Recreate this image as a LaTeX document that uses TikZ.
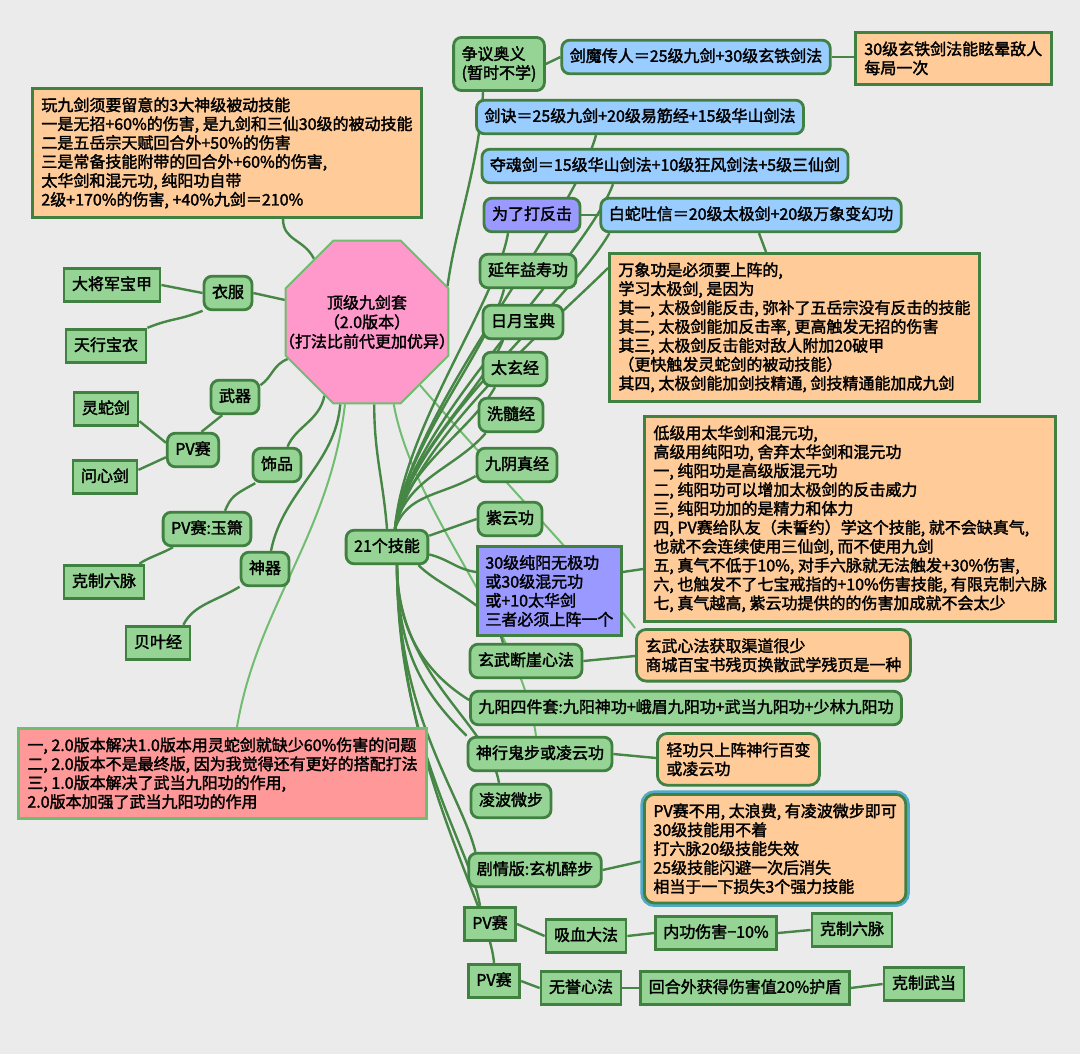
\documentclass[tikz,border=0pt]{standalone}
\usepackage{fontspec}
\setmainfont{Noto Sans CJK SC}[FakeBold=2]
\usetikzlibrary{shapes.geometric,backgrounds}
\definecolor{BgClr}{RGB}{235,235,235}
\definecolor{BoxClr}{RGB}{150,212,150}
\definecolor{LineClr}{RGB}{64,128,64}
\definecolor{LinkClr}{RGB}{70,135,70}
\definecolor{SoftClr}{RGB}{112,188,112}
\definecolor{NoteClr}{RGB}{255,204,153}
\definecolor{BlueClr}{RGB}{153,204,255}
\definecolor{PurpleClr}{RGB}{153,153,255}
\definecolor{HubClr}{RGB}{255,153,204}
\definecolor{RedClr}{RGB}{255,153,153}
\definecolor{SelClr}{RGB}{80,170,200}

\tikzset{
  mmbase/.style={draw=LineClr, fill=BoxClr, line width=1.4pt, inner xsep=4pt, inner ysep=4.4pt,
    font=\fontsize{8}{9.45}\selectfont},
  mmtopic/.style={mmbase, rounded corners=4pt, text height=6.4pt, text depth=1.6pt},
  mmleaf/.style={mmtopic, sharp corners},
  mmnote/.style={mmbase, fill=NoteClr, align=left, anchor=north west, inner xsep=4.5pt, inner ysep=4.5pt},
  mmhub/.style={regular polygon, regular polygon sides=8, minimum size=88pt, inner sep=0pt,
    fill=HubClr, draw=SoftClr, line width=1pt},
  mmlink/.style={draw=LinkClr, line width=1.2pt},
  mmsoft/.style={draw=SoftClr, line width=1pt}
}

\begin{document}
\begin{tikzpicture}[x=0.5pt,y=-0.5pt]
\useasboundingbox (0,0) rectangle (1080,1054);

\node[mmhub] (hub) at (367,322) {};
\node[font=\fontsize{8}{9.7}\selectfont, align=center] (hubtxt) at (hub.center) {顶级九剑套\\（2.0版本）\\（打法比前代更加优异）};

\node[mmnote] (notetl) at (31,87) {玩九剑须要留意的3大神级被动技能\\一是无招+60\%的伤害, 是九剑和三仙30级的被动技能\\二是五岳宗天赋回合外+50\%的伤害\\三是常备技能附带的回合外+60\%的伤害,\\太华剑和混元功, 纯阳功自带\\2级+170\%的伤害, +40\%九剑＝210\%};

\node[mmtopic] (yifu) at (228,293) {衣服};
\node[mmleaf] (dajiang) at (112,285) {大将军宝甲};
\node[mmleaf] (tianxing) at (106,346) {天行宝衣};
\node[mmtopic] (wuqi) at (235,397) {武器};
\node[mmtopic] (pvwq) at (193,450) {PV赛};
\node[mmleaf] (lingshe) at (106,409) {灵蛇剑};
\node[mmleaf] (wenxin) at (105,477) {问心剑};
\node[mmtopic] (shipin) at (277,465) {饰品};
\node[mmtopic] (yuxiao) at (207,529) {PV赛:玉箫};
\node[mmleaf] (liumaiA) at (104,582) {克制六脉};
\node[mmtopic] (shenqi) at (265,569) {神器};
\node[mmleaf] (beiye) at (158,643) {贝叶经};

\node[mmnote, fill=RedClr, draw=SoftClr] (rednote) at (17,727) {一, 2.0版本解决1.0版本用灵蛇剑就缺少60\%伤害的问题\\二, 2.0版本不是最终版, 因为我觉得还有更好的搭配打法\\三, 1.0版本解决了武当九阳功的作用,\\2.0版本加强了武当九阳功的作用};

\node[mmtopic] (skills) at (387,547) {21个技能};

\node[mmbase, rounded corners=4pt, align=left] (zhengyi) at (499,64) {争议奥义\\(暂时不学)};
\node[mmtopic, fill=BlueClr] (jianmo) at (696,57) {剑魔传人＝25级九剑+30级玄铁剑法};
\node[mmnote] (notext) at (854,31) {30级玄铁剑法能眩晕敌人\\每局一次};
\node[mmtopic, fill=BlueClr] (jianjue) at (640,117) {剑诀＝25级九剑+20级易筋经+15级华山剑法};
\node[mmtopic, fill=BlueClr] (duohun) at (665,166) {夺魂剑＝15级华山剑法+10级狂风剑法+5级三仙剑};
\node[mmtopic, fill=PurpleClr] (fanji) at (532,215) {为了打反击};
\node[mmtopic, fill=BlueClr] (baishe) at (751,215) {白蛇吐信＝20级太极剑+20级万象变幻功};
\node[mmnote] (notewx) at (608,252) {万象功是必须要上阵的,\\学习太极剑, 是因为\\其一, 太极剑能反击, 弥补了五岳宗没有反击的技能\\其二, 太极剑能加反击率, 更高触发无招的伤害\\其三, 太极剑反击能对敌人附加20破甲\\（更快触发灵蛇剑的被动技能）\\其四, 太极剑能加剑技精通, 剑技精通能加成九剑};

\node[mmtopic] (yannian) at (528,271) {延年益寿功};
\node[mmtopic] (riyue) at (523,322) {日月宝典};
\node[mmtopic] (taixuan) at (515,369) {太玄经};
\node[mmtopic] (xisui) at (511,415) {洗髓经};
\node[mmtopic] (jiuyin) at (517,465) {九阴真经};
\node[mmtopic] (ziyun) at (510,519) {紫云功};
\node[mmbase, fill=PurpleClr, align=left, anchor=north west] (chunyang) at (476,545) {30级纯阳无极功\\或30级混元功\\或+10太华剑\\三者必须上阵一个};
\node[mmnote] (notedj) at (643,415) {低级用太华剑和混元功,\\高级用纯阳功, 舍弃太华剑和混元功\\一, 纯阳功是高级版混元功\\二, 纯阳功可以增加太极剑的反击威力\\三, 纯阳功加的是精力和体力\\四, PV赛给队友（未誓约）学这个技能, 就不会缺真气,\\也就不会连续使用三仙剑, 而不使用九剑\\五, 真气不低于10\%, 对手六脉就无法触发+30\%伤害,\\六, 也触发不了七宝戒指的+10\%伤害技能, 有限克制六脉\\七, 真气越高, 紫云功提供的的伤害加成就不会太少};

\node[mmtopic] (xuanwu) at (526,661) {玄武断崖心法};
\node[mmnote, rounded corners=5pt] (notexw) at (635,628) {玄武心法获取渠道很少\\商城百宝书残页换散武学残页是一种};
\node[mmtopic] (jiuyang) at (686,708) {九阳四件套:九阳神功+峨眉九阳功+武当九阳功+少林九阳功};
\node[mmtopic] (shenxing) at (540,754) {神行鬼步或凌云功};
\node[mmnote, rounded corners=5pt] (noteqg) at (656,732) {轻功只上阵神行百变\\或凌云功};
\node[mmtopic] (lingbo) at (511,801) {凌波微步};
\node[mmtopic] (juqing) at (535,870) {剧情版:玄机醉步};
\node[mmnote, rounded corners=5pt, preaction={draw=SelClr, line width=4pt}] (notepv) at (643,793) {PV赛不用, 太浪费, 有凌波微步即可\\30级技能用不着\\打六脉20级技能失效\\25级技能闪避一次后消失\\相当于一下损失3个强力技能};

\node[mmleaf] (pvA) at (490,924) {PV赛};
\node[mmleaf] (xixue) at (586,936) {吸血大法};
\node[mmleaf] (neigong) at (716,933) {内功伤害−10\%};
\node[mmleaf] (liumaiB) at (852,930) {克制六脉};
\node[mmleaf] (pvB) at (494,981) {PV赛};
\node[mmleaf] (wuyu) at (581,988) {无誉心法};
\node[mmleaf] (huihe) at (745,988) {回合外获得伤害值20\%护盾};
\node[mmleaf] (wudang) at (924,984) {克制武当};

\coordinate (skup) at ([xshift=4pt]skills.north);
\coordinate (skdn) at ([xshift=5pt]skills.south);

\begin{scope}[on background layer]
\fill[BgClr] (0,0) rectangle (1080,1054);

% hub branches
\draw[mmlink] (hub.130) .. controls +(-10,-20) and +(0,22) .. ([xshift=126pt]notetl.south west);
\draw[mmlink] (hub.165) -- (yifu.east);
\draw[mmlink] (yifu.west) -- (dajiang.east);
\draw[mmlink] (yifu.215) .. controls +(-25,10) and +(25,-10) .. (tianxing.north east);
\draw[mmlink] (hub.205) .. controls +(-15,6) and +(12,-8) .. (wuqi.25);
\draw[mmlink] (wuqi.235) -- (pvwq.65);
\draw[mmlink] (pvwq.165) -- (lingshe.340);
\draw[mmlink] (pvwq.195) -- (wenxin.12);
\draw[mmlink] (hub.240) .. controls +(-5,25) and +(8,-20) .. (shipin.60);
\draw[mmlink] (shipin.220) .. controls +(-22,12) and +(6,-14) .. ([xshift=9pt]yuxiao.north);
\draw[mmlink] ([xshift=-17pt]yuxiao.south) .. controls +(-10,6) and +(8,-6) .. ([xshift=-3pt]liumaiA.north east);
\draw[mmlink] (hub.252) .. controls +(-5,60) and +(12,-60) .. ([xshift=3pt]shenqi.north);
\draw[mmlink] (shenqi.215) .. controls +(-25,15) and +(10,-20) .. ([xshift=-4pt]beiye.north east);
\draw[mmsoft] (hub.255) .. controls +(-15,130) and +(20,-120) .. ([xshift=110pt]rednote.north west);
\draw[mmsoft] (hub.310) .. controls +(60,70) and +(-30,-40) .. (notexw.north west);
\draw[mmsoft] (hub.288) .. controls +(20,110) and +(-15,-110) .. ([xshift=-2pt]shenxing.north);
\draw[mmlink] (hub.275) .. controls +(0,50) and +(-4,-50) .. (skills.north);
\draw[mmlink] (hub.24) .. controls +(8,-60) and +(-3,70) .. ([xshift=-8pt]zhengyi.south);
\draw[mmlink] (zhengyi.east) -- (jianmo.west);
\draw[mmlink] (jianmo.east) -- ([yshift=-13pt]notext.north west);

% skills fan
\draw[mmlink] (skup) .. controls +(15,-120) and +(-25,90) .. ([xshift=-22pt]jianjue.south);
\draw[mmlink] (skup) .. controls +(15,-110) and +(-30,80) .. ([xshift=-26pt]duohun.south);
\draw[mmlink] (skup) .. controls +(8,-100) and +(-12,70) .. ([xshift=-12pt]fanji.south);
\draw[mmlink] (skup) .. controls +(15,-100) and +(-40,70) .. ([xshift=5pt]baishe.south west);
\draw[mmlink] (skup) .. controls +(20,-90) and +(-50,50) .. ([yshift=-8pt]notewx.north west);
\draw[mmlink] (skup) .. controls +(8,-80) and +(-15,60) .. ([xshift=-12pt]yannian.south);
\draw[mmlink] (skup) .. controls +(8,-70) and +(-20,50) .. ([xshift=-10pt]riyue.south);
\draw[mmlink] (skup) .. controls +(8,-60) and +(-25,45) .. ([xshift=-10pt]taixuan.south);
\draw[mmlink] (skup) .. controls +(10,-50) and +(-30,35) .. ([xshift=4pt]xisui.south west);
\draw[mmlink] (skup) .. controls +(12,-35) and +(-35,20) .. (jiuyin.195);
\draw[mmlink] (skills.15) -- (ziyun.west);
\draw[mmlink] (skills.350) .. controls +(20,5) and +(-20,-3) .. ([yshift=-13.5pt]chunyang.north west);
\draw[mmlink] (skills.330) .. controls +(25,25) and +(-10,-40) .. ([xshift=-11.5pt]xuanwu.north);
\draw[mmlink] (skdn) .. controls +(0,70) and +(-40,-25) .. ([yshift=4pt]jiuyang.west);
\draw[mmlink] (skdn) .. controls +(0,90) and +(-40,-40) .. (shenxing.north west);
\draw[mmlink] (skdn) .. controls +(0,110) and +(-10,-60) .. ([xshift=-6pt]lingbo.north);
\draw[mmlink] (skdn) .. controls +(0,150) and +(-15,-60) .. ([xshift=4pt]juqing.north west);
\draw[mmlink] (skdn) .. controls +(0,180) and +(-10,-60) .. ([xshift=-5pt]pvA.north);
\draw[mmlink] (skdn) .. controls +(2,200) and +(-5,-60) .. (pvB.north);

% side links
\draw[mmlink] (fanji.east) -- (baishe.west);
\draw[mmlink] ([xshift=4pt]baishe.south) -- ([xshift=79pt]notewx.north west);
\draw[mmlink] ([yshift=-13.5pt]chunyang.north east) -- ([yshift=-77pt]notedj.north west);
\draw[mmlink] (xuanwu.east) -- ([yshift=-14pt]notexw.north west);
\draw[mmlink] (shenxing.east) -- ([yshift=-13pt]noteqg.north west);
\draw[mmlink] (juqing.east) -- ([yshift=-34pt]notepv.north west);
\draw[mmlink] (pvA.east) -- (xixue.west);
\draw[mmlink] (xixue.east) -- (neigong.west);
\draw[mmlink] (neigong.east) -- (liumaiB.west);
\draw[mmlink] (pvB.east) -- (wuyu.west);
\draw[mmlink] (wuyu.east) -- (huihe.west);
\draw[mmlink] (huihe.east) -- (wudang.west);
\end{scope}
\end{tikzpicture}
\end{document}
